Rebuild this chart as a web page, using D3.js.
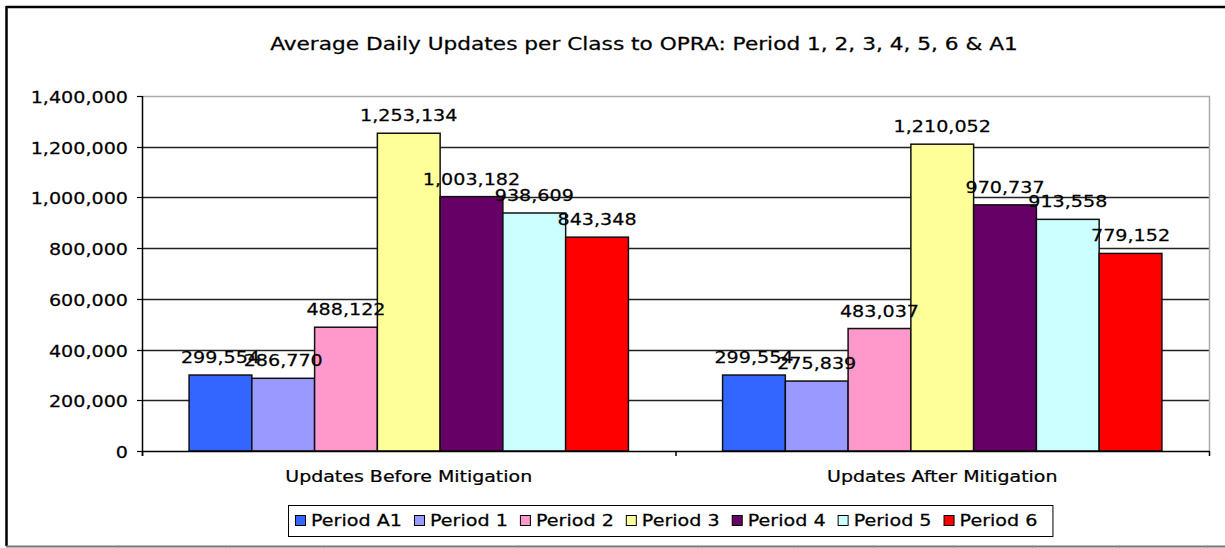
<!DOCTYPE html>
<html>
<head>
<meta charset="utf-8">
<script src="https://cdn.jsdelivr.net/npm/d3@7"></script>
<style>
  body { margin: 0; background: #fff; }
  text { font-family: "DejaVu Sans", Verdana, sans-serif; fill: #000; stroke: #000; stroke-width: 0.25; }
</style>
</head>
<body>
<svg id="chart" width="1225" height="548"></svg>
<script>
// chart data
var categories = ["Updates Before Mitigation", "Updates After Mitigation"];
var seriesNames = ["Period A1", "Period 1", "Period 2", "Period 3", "Period 4", "Period 5", "Period 6"];
var seriesColors = ["#3366FF", "#9999FF", "#FF99CC", "#FFFF99", "#660066", "#CCFFFF", "#FF0000"];
var beforeValues = [299554, 286770, 488122, 1253134, 1003182, 938609, 843348];
var afterValues = [299554, 275839, 483037, 1210052, 970737, 913558, 779152];
var yTicks = [0, 200000, 400000, 600000, 800000, 1000000, 1200000, 1400000];
var titleText = "Average Daily Updates per Class to OPRA: Period 1, 2, 3, 4, 5, 6 & A1";

var values = [beforeValues, afterValues];

var svg = d3.select("#chart");
var sx = 1.16; // text in the picture is a bit wider than DejaVu

var plot = { left: 142, right: 1209, top: 96, bottom: 451 };

// horizontally stretched text, anchored at (x, y)
function addText(parent, x, y, str, size, anchor, stretch) {
    var t = parent.append("text")
        .attr("transform", "translate(" + x + "," + y + ") scale(" + stretch + ",1)")
        .attr("text-anchor", anchor)
        .attr("font-size", size)
        .text(str);
    return t;
}

// chart frame (spreadsheet object)
svg.append("line").attr("x1", 6).attr("x2", 1225).attr("y1", 7).attr("y2", 7)
    .attr("stroke", "#000").attr("stroke-width", 2.5);
svg.append("line").attr("x1", 6.5).attr("x2", 6.5).attr("y1", 6).attr("y2", 546)
    .attr("stroke", "#000").attr("stroke-width", 2.5);
svg.append("line").attr("x1", 6).attr("x2", 1225).attr("y1", 546.5).attr("y2", 546.5)
    .attr("stroke", "#777").attr("stroke-width", 2);

// column marks of the sheet beneath
var sheetCols = [118, 229, 324, 518, 698, 794, 873, 953, 1032, 1119, 1207];
svg.selectAll(".sheetcol").data(sheetCols).enter().append("line")
    .attr("x1", function(d){ return d + 0.5; }).attr("x2", function(d){ return d + 0.5; })
    .attr("y1", 545).attr("y2", 548).attr("stroke", "#999");

// scales
var x0 = d3.scaleBand().domain(categories).range([plot.left, plot.right]).paddingInner(0).paddingOuter(0);
// gap width 150%: 7 bars + 1.5 bar of gap per category
var barW = x0.bandwidth() / 8.5;
function barX(ci, si) { return x0(categories[ci]) + barW * 0.75 + si * barW; }

var y = d3.scaleLinear().domain([0, 1400000]).range([plot.bottom, plot.top]);

// gridlines
svg.selectAll(".grid").data(yTicks.filter(function(d){ return d > 0 && d < 1400000; })).enter().append("line")
    .attr("x1", plot.left).attr("x2", plot.right)
    .attr("y1", function(d){ return Math.round(y(d)) + 0.5; })
    .attr("y2", function(d){ return Math.round(y(d)) + 0.5; })
    .attr("stroke", "#222").attr("stroke-width", 1.3);

// plot area border (top / right)
svg.append("path")
    .attr("d", "M" + plot.left + "," + (plot.top + 0.5) + "H" + (plot.right + 0.5) + "V" + plot.bottom)
    .attr("fill", "none").attr("stroke", "#aaa").attr("stroke-width", 1.5);

// bars
var fmt = d3.format(",");
categories.forEach(function(cat, ci) {
    var g = svg.append("g");
    g.selectAll("rect").data(values[ci]).enter().append("rect")
        .attr("x", function(d, si){ return barX(ci, si); })
        .attr("width", barW)
        .attr("y", function(d){ return y(d); })
        .attr("height", function(d){ return plot.bottom - y(d); })
        .attr("fill", function(d, si){ return seriesColors[si]; })
        .attr("stroke", "#111").attr("stroke-width", 1.5);
});

// data labels
categories.forEach(function(cat, ci) {
    values[ci].forEach(function(v, si) {
        addText(svg, barX(ci, si) + barW / 2, y(v) - 12, fmt(v), 16.5, "middle", sx);
    });
});

// y axis
var yAxis = svg.append("g");
yAxis.append("line").attr("x1", plot.left + 0.5).attr("x2", plot.left + 0.5)
    .attr("y1", plot.top).attr("y2", plot.bottom + 5).attr("stroke", "#000").attr("stroke-width", 1.5);
yTicks.forEach(function(t) {
    var ty = Math.round(y(t)) + 0.5;
    yAxis.append("line").attr("x1", plot.left - 5).attr("x2", plot.left).attr("y1", ty).attr("y2", ty)
        .attr("stroke", "#000").attr("stroke-width", 1.2);
    addText(yAxis, 128, ty + 6, fmt(t), 16.5, "end", sx);
});

// x axis
var xAxis = svg.append("g");
xAxis.append("line").attr("x1", plot.left).attr("x2", plot.right + 1)
    .attr("y1", plot.bottom + 0.5).attr("y2", plot.bottom + 0.5).attr("stroke", "#000").attr("stroke-width", 1.5);
[plot.left, x0(categories[1]), plot.right].forEach(function(tx) {
    xAxis.append("line").attr("x1", tx + 0.5).attr("x2", tx + 0.5)
        .attr("y1", plot.bottom).attr("y2", plot.bottom + 5).attr("stroke", "#000").attr("stroke-width", 1.5);
});
categories.forEach(function(cat) {
    addText(xAxis, x0(cat) + x0.bandwidth() / 2, 482, cat, 16.5, "middle", 1.15);
});

// title
var title = addText(svg, 644, 49.5, titleText, 17, "middle", 1);
var tw = title.node().getComputedTextLength();
title.attr("transform", "translate(644,49.5) scale(" + (748 / tw) + ",1)");

// legend
var legend = svg.append("g");
var lx = 295, legendTop = 505, legendBottom = 536, legendSx = 1.16;
seriesNames.forEach(function(name, si) {
    legend.append("rect").attr("x", lx + 0.5).attr("y", 515.5).attr("width", 10).attr("height", 10)
        .attr("fill", seriesColors[si]).attr("stroke", "#000").attr("stroke-width", 1);
    var t = addText(legend, lx + 16, 526, name, 16.5, "start", legendSx);
    var w = t.node().getComputedTextLength() * legendSx;
    lx += 16 + w + 12;
});
legend.insert("rect", ":first-child")
    .attr("x", 288.5).attr("y", legendTop + 0.5)
    .attr("width", lx - 12 + 15 - 288).attr("height", legendBottom - legendTop)
    .attr("fill", "#fff").attr("stroke", "#000").attr("stroke-width", 1);
</script>
</body>
</html>
